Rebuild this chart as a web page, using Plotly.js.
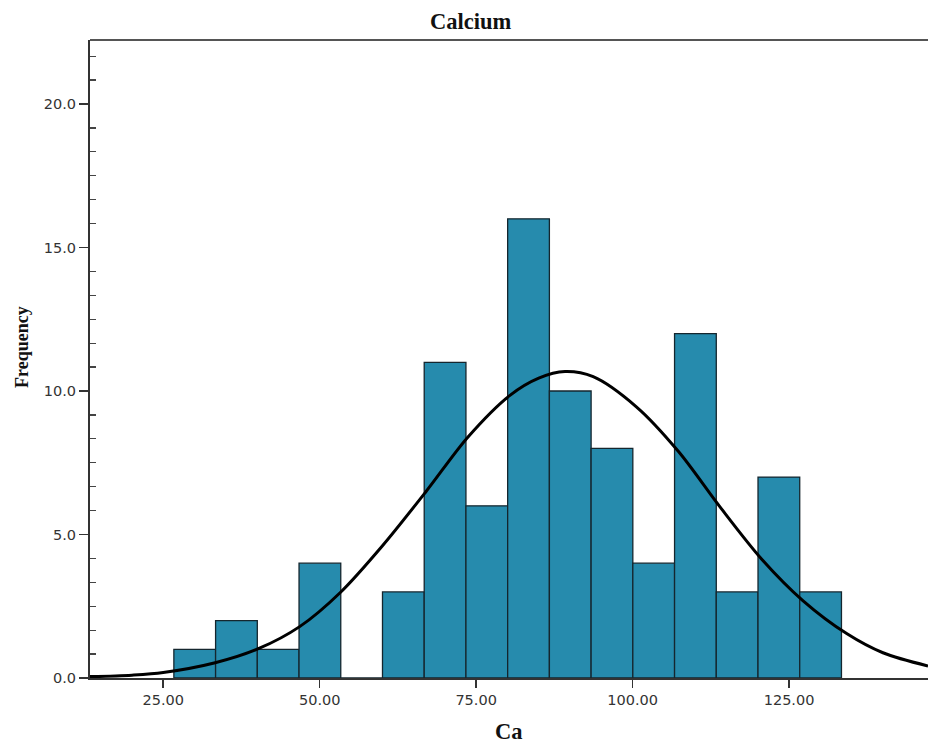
<!DOCTYPE html>
<html>
<head>
<meta charset="utf-8">
<script src="https://cdn.plot.ly/plotly-3.0.1.min.js"></script>
<style>html,body{margin:0;padding:0;background:#fff;}#chart{width:928px;height:747px;}</style>
</head>
<body>
<div id="chart"></div>
<script>
// Histogram bins (Ca values)
const binStart = 26.7;
const binWidth = 6.667;
const counts = [1, 2, 1, 4, 0, 3, 11, 6, 16, 10, 8, 4, 12, 3, 7, 3];

// Normal curve points
const curveX = [13.3, 20, 25, 33.3, 40.2, 46.8, 53.3, 60, 67, 73.7, 80.4, 85, 89.2, 93.7, 100.6, 107.3, 113.9, 120.6, 127.2, 134.2, 140, 147.2];
const curveY = [0.05, 0.1, 0.19, 0.53, 1.02, 1.79, 2.98, 4.6, 6.5, 8.4, 9.85, 10.45, 10.68, 10.5, 9.45, 7.9, 5.98, 4.15, 2.7, 1.55, 0.88, 0.42];

const xTicks = [25, 50, 75, 100, 125];
const xTickText = ['25.00', '50.00', '75.00', '100.00', '125.00'];
const yTicks = [0, 5, 10, 15, 20];
const yTickText = ['0.0', '5.0', '10.0', '15.0', '20.0'];
const yMinorStep = 5 / 6;

const binCenters = counts.map((c, i) => binStart + binWidth * (i + 0.5));
const yMinorTicks = [];
for (let k = 1; k * yMinorStep < 22.2; k++) { if (k % 6 !== 0) yMinorTicks.push(k * yMinorStep); }

const bars = {
  type: 'bar',
  x: binCenters,
  y: counts,
  width: counts.map(() => binWidth),
  marker: {color: '#268BAD', line: {color: '#15262e', width: 1.3}},
  hoverinfo: 'x+y'
};
const curve = {
  type: 'scatter',
  mode: 'lines',
  x: curveX,
  y: curveY,
  line: {color: '#000', width: 3, shape: 'spline', smoothing: 0.9},
  hoverinfo: 'skip'
};
// carrier for the inside minor-tick axis
const minorCarrier = {
  type: 'scatter', mode: 'markers', x: [binCenters[0]], y: [0], yaxis: 'y2',
  marker: {size: 1, opacity: 0}, hoverinfo: 'skip', showlegend: false
};

const tickFont = {family: 'DejaVu Sans, sans-serif', size: 14.5, color: '#333'};
const titleFont = {family: 'Liberation Serif, Times New Roman, serif', size: 22.5, color: '#111'};
const yTitleFont = {family: 'Liberation Serif, Times New Roman, serif', size: 18, color: '#111'};

const layout = {
  width: 928, height: 747,
  margin: {l: 90, r: 0, t: 40, b: 69, pad: 0},
  paper_bgcolor: '#fff', plot_bgcolor: '#fff',
  showlegend: false,
  xaxis: {
    range: [13.3, 147.2], showgrid: false, zeroline: false,
    showline: true, linecolor: '#333', linewidth: 2,
    tickmode: 'array', tickvals: xTicks, ticktext: xTickText,
    ticks: 'outside', ticklen: 8, tickwidth: 1.5, tickcolor: '#333',
    tickfont: tickFont
  },
  yaxis: {
    range: [0, 22.23], showgrid: false, zeroline: false,
    showline: true, linecolor: '#333', linewidth: 2,
    tickmode: 'array', tickvals: yTicks, ticktext: yTickText,
    ticks: 'outside', ticklen: 9, tickwidth: 1.5, tickcolor: '#333',
    tickfont: tickFont
  },
  yaxis2: {
    overlaying: 'y', side: 'left', range: [0, 22.23],
    showgrid: false, zeroline: false, showline: false,
    tickmode: 'array', tickvals: yMinorTicks, showticklabels: false,
    ticks: 'inside', ticklen: 6, tickwidth: 1.2, tickcolor: '#444'
  },
  shapes: [
    {type: 'line', xref: 'paper', yref: 'paper', x0: 0, x1: 1, y0: 1, y1: 1, line: {color: '#555', width: 2}}
  ],
  annotations: [
    {text: '<b>Calcium</b>', xref: 'paper', yref: 'paper', x: (471 - 90) / 838, y: 1 + 19 / 638, xanchor: 'center', yanchor: 'middle', showarrow: false, font: titleFont},
    {text: '<b>Ca</b>', xref: 'paper', yref: 'paper', x: 0.5, y: -(731 - 678) / 638, xanchor: 'center', yanchor: 'middle', showarrow: false, font: titleFont},
    {text: '<b>Frequency</b>', xref: 'paper', yref: 'paper', x: -(90 - 22) / 838, y: (678 - 347) / 638, xanchor: 'center', yanchor: 'middle', textangle: -90, showarrow: false, font: yTitleFont}
  ]
};

Plotly.newPlot('chart', [bars, curve, minorCarrier], layout, {displayModeBar: false, staticPlot: true});
</script>
</body>
</html>
